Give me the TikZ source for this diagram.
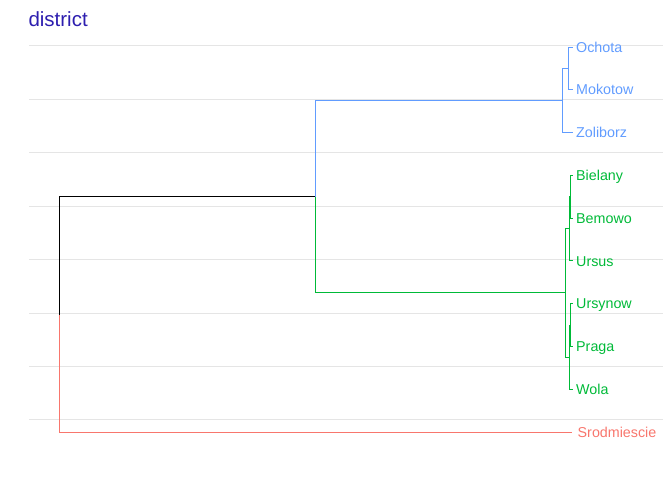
\documentclass[tikz,border=0pt]{standalone}
\usepackage{fontspec}
\setmainfont{Liberation Sans}
\definecolor{clblue}{HTML}{619CFF}
\definecolor{clgreen}{HTML}{00BA38}
\definecolor{clred}{HTML}{F8766D}
\definecolor{gridgray}{HTML}{E5E5E5}
\definecolor{titleblue}{RGB}{45,30,175}

\begin{document}
\begin{tikzpicture}[x=1pt, y=-1pt,
  grid/.style={draw=gridgray, line width=1pt},
  branch/.style={line width=1.1pt},
  leaf/.style={anchor=west, inner xsep=3pt, inner ysep=0pt, text height=10.2pt, text depth=0pt, font=\fontsize{14.3}{16}\selectfont}]
\useasboundingbox (0,0) rectangle (672,480);
% grid + title
\foreach \k in {0,...,7}{ \draw[grid] (29,{45.7+\k*53.47}) -- (663,{45.7+\k*53.47}); }
\node[anchor=base west, inner sep=0pt, text=titleblue, font=\fontsize{20.5}{24}\selectfont] (title) at (28.3,26) {district};
% leaves
\foreach \name/\y/\txt/\col in {ochota/47.5/Ochota/clblue, mokotow/89.8/Mokotow/clblue, zoliborz/132.6/Zoliborz/clblue,
  bielany/175.3/Bielany/clgreen, bemowo/218.1/Bemowo/clgreen, ursus/260.9/Ursus/clgreen,
  ursynow/303.7/Ursynow/clgreen, praga/346.4/Praga/clgreen, wola/389.2/Wola/clgreen}{
  \node[leaf, text=\col] (\name) at (573,\y) {\txt}; }
\node[leaf, text=clred, inner xsep=5.5pt] (srodmiescie) at (572,432.5) {Srodmiescie};
% merge points
\coordinate (root) at (59.5,314.5);
\coordinate (top) at (315.5,196.5);
\coordinate (bTop) at (562.5,100.5);
\coordinate (bOM) at (568.5,68.5);
\coordinate (gTop) at (565.5,292.5);
\coordinate (gBBU) at (569.3,228.8);
\coordinate (gBB) at (570.7,196.7);
\coordinate (gUPW) at (569.3,357.1);
\coordinate (gUP) at (570.7,325.1);
% branches
\draw[branch, draw=black] (root) |- (top);
\draw[branch, draw=clred] (root) |- (srodmiescie.west);
\draw[branch, draw=clblue] (top) |- (bTop);
\draw[branch, draw=clgreen] (top) |- (gTop);
\draw[branch, draw=clblue] (bTop) |- (bOM);
\draw[branch, draw=clblue] (bTop) |- (zoliborz.west);
\draw[branch, draw=clblue] (bOM) |- (ochota.west);
\draw[branch, draw=clblue] (bOM) |- (mokotow.west);
\draw[branch, draw=clgreen] (gTop) |- (gBBU);
\draw[branch, draw=clgreen] (gTop) |- (gUPW);
\draw[branch, draw=clgreen] (gBBU) |- (gBB);
\draw[branch, draw=clgreen] (gBBU) |- (ursus.west);
\draw[branch, draw=clgreen] (gBB) |- (bielany.west);
\draw[branch, draw=clgreen] (gBB) |- (bemowo.west);
\draw[branch, draw=clgreen] (gUPW) |- (gUP);
\draw[branch, draw=clgreen] (gUPW) |- (wola.west);
\draw[branch, draw=clgreen] (gUP) |- (ursynow.west);
\draw[branch, draw=clgreen] (gUP) |- (praga.west);
\end{tikzpicture}
\end{document}
